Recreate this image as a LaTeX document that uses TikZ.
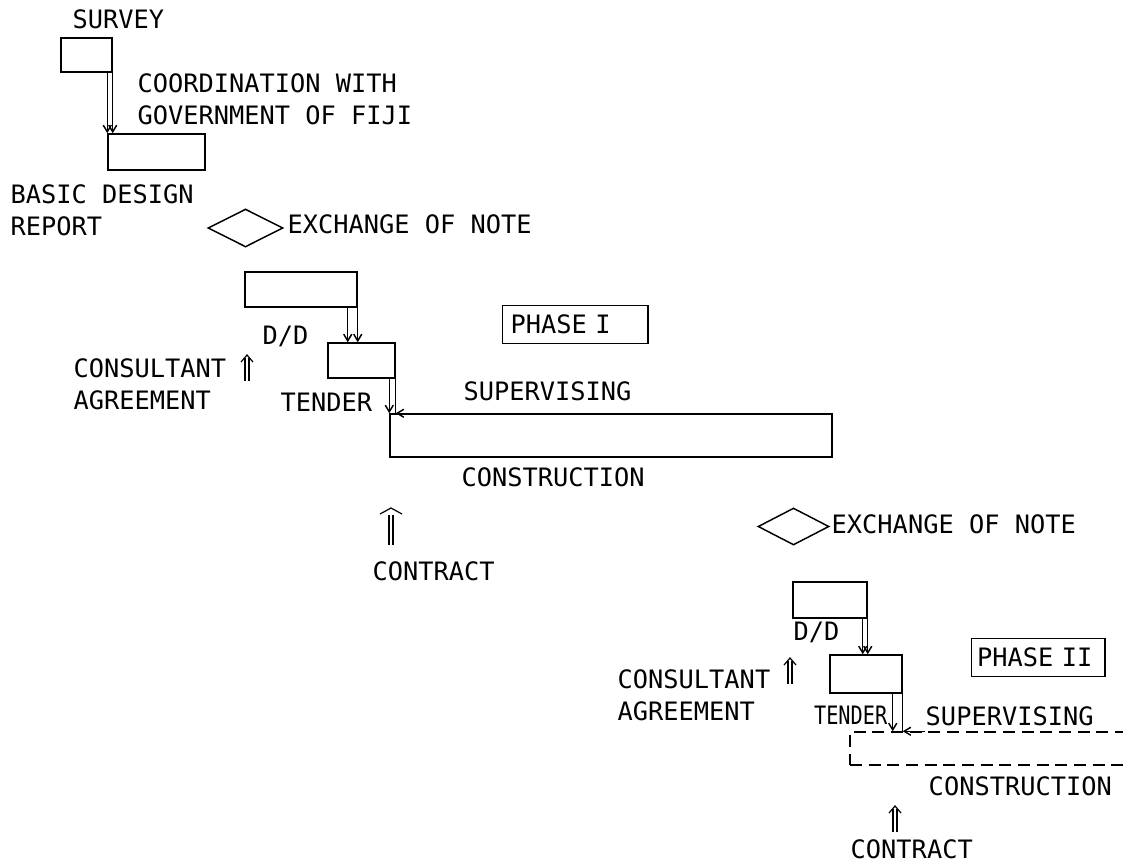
\documentclass[tikz,border=0pt]{standalone}
\usepackage{fontspec}
\setmonofont{DejaVu Sans Mono}
\usetikzlibrary{arrows.meta,shapes.geometric,fit,calc}
\begin{document}
\begin{tikzpicture}[x=0.75pt,y=-0.75pt,
  line width=1.1pt,
  txt/.style={font=\ttfamily\fontsize{19}{24}\selectfont, inner sep=0pt},
  lbl/.style={txt, anchor=base west},
  lbl2/.style={txt, anchor=north west, align=left},
  bar/.style={draw, rectangle, inner sep=0pt},
  arr/.style={-{Straight Barb[length=5pt,width=6pt]}},
  diam/.style={draw, diamond, inner sep=0pt},
  uparr/.pic={
    \draw[line width=0.9pt] (-2,0) -- (-2,-23);
    \draw[line width=0.9pt] (2,0) -- (2,-23);
    \draw[line width=0.9pt] (-6,-19) -- (0,-26) -- (6,-19);
  },
  uparrw/.pic={
    \draw[line width=0.9pt] (-2,0) -- (-2,-30);
    \draw[line width=0.9pt] (2,0) -- (2,-30);
    \draw[line width=0.9pt] (-11,-31) -- (0,-37) -- (11,-31);
  },
]
\path[use as bounding box, fill=white] (0,0) rectangle (1123,864);

% ---------- Phase I ----------
\node[lbl] (surveyl) at (72,28) {SURVEY};
\node[bar, fit={(61,38) (112,72)}] (survey) {};
\node[lbl2] (coordl) at (137,73) {COORDINATION WITH\\GOVERNMENT OF FIJI};
\node[bar, fit={(108,134) (205,170)}] (design) {};
\draw[arr] (survey.south east) -- (survey.south east |- design.north);
\draw[arr] (design.north west |- survey.south) -- (design.north west);
\node[lbl2] (designl) at (10,184) {BASIC DESIGN\\REPORT};

\node[diam, minimum width=56.25pt, minimum height=28.5pt] (eon1) at (245.5,228) {};
\node[lbl] (eon1l) at (287,233) {EXCHANGE OF NOTE};

\node[bar, fit={(245,272) (357,307)}] (dd1) {};
\node[lbl] (dd1l) at (262,344) {D/D};
\node[bar, fit={(328,343) (395,378)}] (tender1) {};
\coordinate (dd1b) at ($(dd1.south east)+(-10,0)$);
\draw[arr] (dd1.south east) -- (dd1.south east |- tender1.north);
\draw[arr] (dd1b) -- (dd1b |- tender1.north);

\node[txt, draw, anchor=north west, minimum height=28.5pt, text width=97pt, inner xsep=6pt, align=left] (phase1) at (502,305) {PHASE I};

\node[lbl2] (cons1) at (73,358) {CONSULTANT\\AGREEMENT};
\pic at (247,381) {uparr};
\node[lbl] (tender1l) at (280,411) {TENDER};

\node[bar, fit={(390,414) (832,457)}] (constr1) {};
\draw[arr] (constr1.north west |- tender1.south) -- (constr1.north west);
\draw (tender1.south east) -- (tender1.south east |- constr1.north);
\coordinate (sup1a) at (tender1.south east |- constr1.north);
\draw[arr] ($(sup1a)+(22,0)$) -- (sup1a);
\node[lbl] (sup1l) at (463,400) {SUPERVISING};
\node[lbl] (constr1l) at (461,486) {CONSTRUCTION};

\pic at (391,545) {uparrw};
\node[lbl] (contract1) at (372,580) {CONTRACT};

% ---------- Phase II ----------
\node[diam, minimum width=53.25pt, minimum height=27.75pt] (eon2) at (793.5,526.5) {};
\node[lbl] (eon2l) at (831,533) {EXCHANGE OF NOTE};

\node[bar, fit={(793,582) (867,618)}] (dd2) {};
\node[lbl] (dd2l) at (793,640) {D/D};
\node[bar, fit={(830,655) (902,693)}] (tender2) {};
\coordinate (dd2b) at ($(dd2.south east)+(-5,0)$);
\draw[arr] (dd2.south east) -- (dd2.south east |- tender2.north);
\draw[arr] (dd2b) -- (dd2b |- tender2.north);

\node[txt, draw, anchor=north west, minimum height=28.5pt, text width=92pt, inner xsep=4pt, align=left] (phase2) at (971,638) {PHASE II};

\node[lbl2] (cons2) at (617,669) {CONSULTANT\\AGREEMENT};
\pic at (790,684) {uparr};
\node[txt, anchor=base east] (tender2l) at (888,724) {\scalebox{0.8}[1]{TENDER}};

\node[bar, dashed, dash pattern=on 9pt off 5pt, fit={(850,732) (1140,765)}] (constr2) {};
\coordinate (t2b) at ($(tender2.south east)+(-10,0)$);
\draw[arr] (t2b) -- (t2b |- constr2.north);
\draw (tender2.south east) -- (tender2.south east |- constr2.north);
\coordinate (sup2a) at (tender2.south east |- constr2.north);
\draw[arr] ($(sup2a)+(22,0)$) -- (sup2a);
\node[lbl] (sup2l) at (925,725) {SUPERVISING};
\node[lbl] (constr2l) at (928,795) {CONSTRUCTION};

\pic at (895,832) {uparr};
\node[lbl] (contract2) at (850,858) {CONTRACT};
\end{tikzpicture}
\end{document}
